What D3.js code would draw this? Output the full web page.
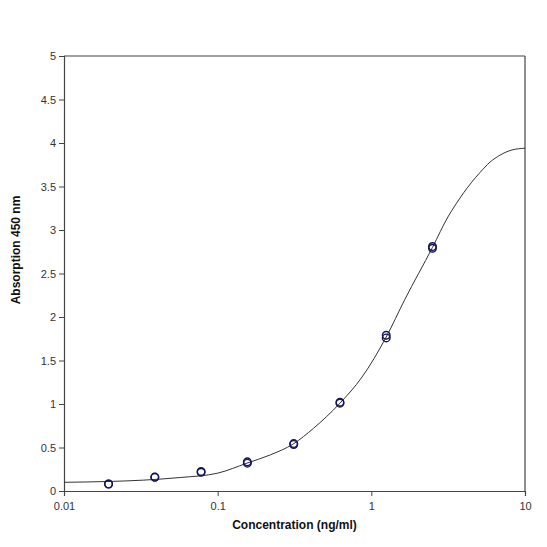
<!DOCTYPE html>
<html>
<head>
<meta charset="utf-8">
<script src="https://cdn.jsdelivr.net/npm/d3@7"></script>
<style>
  body { margin: 0; background: #fff; }
  svg text { font-family: Arial, "Liberation Sans", sans-serif; }
  .tick-label { font-size: 11px; fill: #333; }
  .axis-title { font-size: 12px; font-weight: bold; fill: #111; }
</style>
</head>
<body>
<svg width="547" height="547"></svg>
<script>
// standards, two wells each
var concentrations = [0.0195, 0.039, 0.078, 0.156, 0.3125, 0.625, 1.25, 2.5];
var rep1 = [0.08, 0.157, 0.215, 0.32, 0.535, 1.01, 1.76, 2.79];
var rep2 = [0.08, 0.16, 0.225, 0.335, 0.545, 1.02, 1.79, 2.81];

// fitted curve
var fitConc = [0.01, 0.02, 0.033, 0.057, 0.1, 0.155, 0.22, 0.31, 0.42, 0.625, 0.87, 1.25, 1.65, 2.5, 3.15, 3.56, 4.5, 5.09, 5.92, 6.87, 8.23, 10];
var fitAbs = [0.10, 0.11, 0.125, 0.155, 0.205, 0.32, 0.415, 0.54, 0.72, 1.01, 1.31, 1.77, 2.20, 2.80, 3.15, 3.30, 3.55, 3.66, 3.78, 3.86, 3.92, 3.94];

var xTicks = [0.01, 0.1, 1, 10];
var xTickLabels = ["0.01", "0.1", "1", "10"];
var yTicks = [0, 0.5, 1, 1.5, 2, 2.5, 3, 3.5, 4, 4.5, 5];

// plot box (window.top is read-only, so not "top")
var plotLeft = 64, plotRight = 525, plotTop = 56, plotBottom = 491;

var svg = d3.select("svg");

var x = d3.scaleLog().domain([0.01, 10]).range([plotLeft, plotRight]);
var y = d3.scaleLinear().domain([0, 5]).range([plotBottom, plotTop]);

// frame top / right
svg.append("line")
	.attr("x1", plotLeft).attr("x2", plotRight)
	.attr("y1", plotTop).attr("y2", plotTop)
	.attr("stroke", "#444").attr("stroke-width", 1.2);
svg.append("line")
	.attr("x1", plotRight).attr("x2", plotRight)
	.attr("y1", plotTop).attr("y2", plotBottom)
	.attr("stroke", "#444").attr("stroke-width", 1.2);

// x axis
var xAxis = svg.append("g")
	.attr("transform", "translate(0," + plotBottom + ")")
	.call(d3.axisBottom(x).tickValues(xTicks)
		.tickFormat(function(d, i) { return xTickLabels[i]; })
		.tickSizeOuter(0).tickSize(5).tickPadding(6));

// y axis
var yAxis = svg.append("g")
	.attr("transform", "translate(" + plotLeft + ",0)")
	.call(d3.axisLeft(y).tickValues(yTicks)
		.tickFormat(function(d) { return String(d); })
		.tickSizeOuter(0).tickSize(5).tickPadding(3));

[xAxis, yAxis].forEach(function(g) {
	g.select(".domain").attr("stroke", "#444").attr("stroke-width", 1.2);
	g.selectAll(".tick line").attr("stroke", "#444");
	g.selectAll(".tick text").attr("class", "tick-label").attr("font-size", null).attr("font-family", null);
});

// fitted curve
var line = d3.line()
	.x(function(d, i) { return x(fitConc[i]); })
	.y(function(d) { return y(d); })
	.curve(d3.curveMonotoneX);

svg.append("path")
	.datum(fitAbs)
	.attr("d", line)
	.attr("fill", "none")
	.attr("stroke", "#333")
	.attr("stroke-width", 1);

// data points
var points = [];
concentrations.forEach(function(c, i) {
	points.push({ c: c, v: rep1[i] });
	points.push({ c: c, v: rep2[i] });
});

svg.selectAll("circle.pt")
	.data(points)
	.enter()
	.append("circle")
	.attr("class", "pt")
	.attr("cx", function(d) { return x(d.c); })
	.attr("cy", function(d) { return y(d.v); })
	.attr("r", 3.8)
	.attr("fill", "none")
	.attr("stroke", "#14145a")
	.attr("stroke-width", 1.4);

// titles
svg.append("text")
	.attr("class", "axis-title")
	.attr("x", (plotLeft + plotRight) / 2)
	.attr("y", 529)
	.attr("text-anchor", "middle")
	.text("Concentration (ng/ml)");

svg.append("text")
	.attr("class", "axis-title")
	.attr("transform", "translate(20,250) rotate(-90)")
	.attr("text-anchor", "middle")
	.text("Absorption 450 nm");
</script>
</body>
</html>
